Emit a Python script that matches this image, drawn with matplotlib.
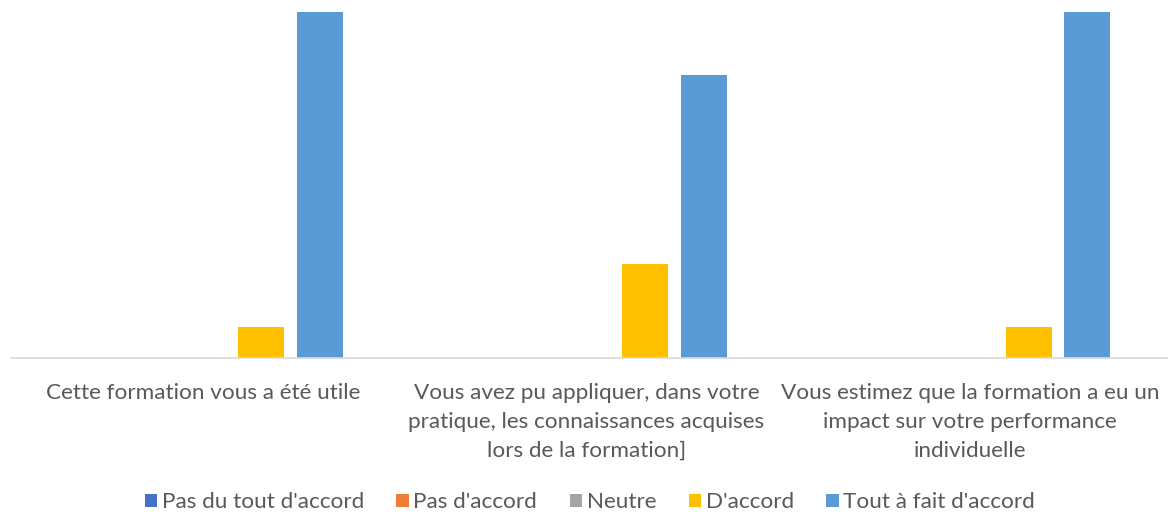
import textwrap
import numpy as np
import matplotlib.pyplot as plt

# Survey answers (number of respondents)
questions = ["Cette formation vous a été utile",
             "Vous avez pu appliquer, dans votre pratique, les connaissances acquises lors de la formation]",
             "Vous estimez que la formation a eu un impact sur votre performance individuelle"]
series_names = ["Pas du tout d'accord", "Pas d'accord", "Neutre", "D'accord", "Tout à fait d'accord"]
pas_du_tout = [0, 0, 0]
pas_accord = [0, 0, 0]
neutre = [0, 0, 0]
d_accord = [1, 3, 1]
tout_a_fait = [11, 9, 11]

colors = ['#4472C4', '#ED7D31', '#A5A5A5', '#FFC000', '#5B9BD5']
values = [pas_du_tout, pas_accord, neutre, d_accord, tout_a_fait]

plt.rcParams['font.family'] = ['Lato', 'DejaVu Sans']
text_color = '#595959'

fig = plt.figure(figsize=(11.68, 5.16), dpi=100)
ax = fig.add_axes([0.0096, 0.306, 0.9904, 0.671])

x = np.arange(len(questions))
step = 0.1525
width = 0.12
for i, (name, vals) in enumerate(zip(series_names, values)):
    ax.bar(x + (i - 2) * step, vals, width, color=colors[i], label=name)

ax.set_xlim(-0.5, len(questions) - 0.5 + 0.016)
ax.set_ylim(0, max(tout_a_fait))
ax.set_yticks([])
for side in ['top', 'right', 'left']:
    ax.spines[side].set_visible(False)
ax.spines['bottom'].set_color('#D9D9D9')
ax.spines['bottom'].set_linewidth(1.2)

ax.set_xticks(x)
ax.set_xticklabels([textwrap.fill(q, 37) for q in questions],
                   fontsize=16.2, color=text_color, linespacing=1.55)
ax.tick_params(axis='x', length=0, pad=18)

fig.legend(loc='lower center', bbox_to_anchor=(0.505, -0.032), ncol=5, frameon=False,
           fontsize=16.2, labelcolor=text_color, handlelength=0.55, handleheight=0.55,
           handletextpad=0.2, columnspacing=1.45)

fig.savefig('out.png', dpi=100)
